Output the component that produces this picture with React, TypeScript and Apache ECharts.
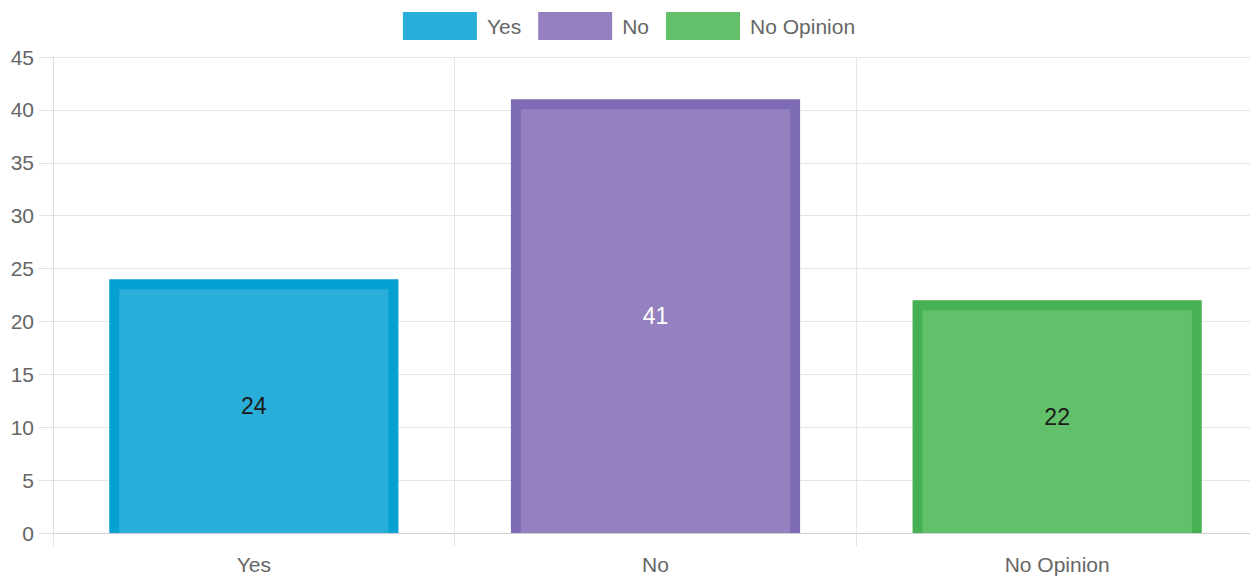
import React, { useEffect, useRef } from "react";
import * as echarts from "echarts";

const categories = ["Yes", "No", "No Opinion"];
const values = [24, 41, 22];
const fillColors = ["#29ADD9", "#9581C0", "#62C06A"];
const borderColors = ["#05A1D3", "#7E6BB5", "#45B152"];
const labelColors = ["#1a1a1a", "#ffffff", "#1a1a1a"];
const yTicks = [0, 5, 10, 15, 20, 25, 30, 35, 40, 45];

const FONT = "'Liberation Sans', Arial, Helvetica, sans-serif";
const BORDER = 10;

export default function App() {
  const ref = useRef<HTMLDivElement>(null);
  useEffect(() => {
    if (!ref.current) return;
    const chart = echarts.init(ref.current, undefined, { renderer: "svg" });
    const series = categories.map((name, i) => ({
      name,
      type: "custom",
      itemStyle: { color: fillColors[i] },
      data: [[i, values[i]]],
      renderItem: (params: any, api: any) => {
        const cat = api.value(0);
        const val = api.value(1);
        const top = api.coord([cat, val]);
        const base = api.coord([cat, 0]);
        const bw = api.size([1, 0])[0] * 0.72;
        const x = top[0] - bw / 2;
        const h = base[1] - top[1];
        return {
          type: "group",
          children: [
            {
              type: "rect",
              shape: { x, y: top[1], width: bw, height: h },
              style: { fill: borderColors[i] },
            },
            {
              type: "rect",
              shape: {
                x: x + BORDER,
                y: top[1] + BORDER,
                width: bw - 2 * BORDER,
                height: h - BORDER,
              },
              style: { fill: fillColors[i] },
            },
            {
              type: "text",
              x: top[0],
              y: top[1] + h / 2,
              style: {
                text: String(val),
                fill: labelColors[i],
                font: `23px ${FONT}`,
                align: "center",
                verticalAlign: "middle",
              },
            },
          ],
        };
      },
    }));
    chart.setOption({
      animation: false,
      backgroundColor: "#ffffff",
      textStyle: { fontFamily: FONT },
      legend: {
        top: 7,
        left: "center",
        itemWidth: 74,
        itemHeight: 28,
        itemGap: 17,
        icon: "rect",
        data: categories,
        textStyle: { fontSize: 21, color: "#666", fontFamily: FONT, padding: [0, 0, 0, 5] },
      },
      grid: { left: 53, top: 57, width: 1205, height: 476, containLabel: false },
      xAxis: {
        type: "category",
        data: categories,
        boundaryGap: true,
        axisLine: { show: true, lineStyle: { color: "#cfcfcf", width: 1 } },
        axisTick: { show: true, length: 13, lineStyle: { color: "#e2e2e2" } },
        axisLabel: { fontSize: 21, color: "#666", margin: 21, fontFamily: FONT },
        splitLine: { show: true, lineStyle: { color: "#e6e6e6", width: 1 } },
      },
      yAxis: {
        type: "value",
        min: 0,
        max: yTicks[yTicks.length - 1],
        interval: 5,
        axisLine: { show: true, lineStyle: { color: "#dcdcdc", width: 1 } },
        axisTick: { show: true, length: 14, lineStyle: { color: "#e2e2e2" } },
        axisLabel: { fontSize: 21, color: "#666", margin: 19, fontFamily: FONT },
        splitLine: { show: true, lineStyle: { color: "#e6e6e6", width: 1 } },
      },
      series,
    });
    return () => chart.dispose();
  }, []);
  return (
    <div
      style={{
        position: "absolute",
        left: 0,
        top: 0,
        width: 1250,
        height: 577,
        overflow: "hidden",
      }}
    >
      <div ref={ref} style={{ width: 1258, height: 577 }} />
    </div>
  );
}
